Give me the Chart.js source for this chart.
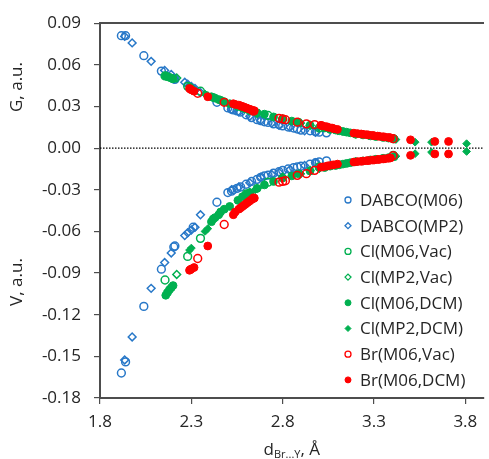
<!DOCTYPE html>
<html>
<head>
<meta charset="utf-8">
<script src="https://cdn.jsdelivr.net/npm/chart.js@4.4.0/dist/chart.umd.min.js"></script>
<style>
  html, body { margin: 0; padding: 0; background: #fff; }
  #chart { display: block; }
</style>
</head>
<body>
<canvas id="chart" width="489" height="459"></canvas>
<script>
// --- axis ticks ---
const X_TICKS = [1.8, 2.3, 2.8, 3.3, 3.8];
const Y_TICKS = [0.09, 0.06, 0.03, 0.0, -0.03, -0.06, -0.09, -0.12, -0.15, -0.18];
const ZERO_LINE_X = [1.8, 3.9];

const LABELS = [
  'DABCO(M06)', 'DABCO(MP2)', 'Cl(M06,Vac)', 'Cl(MP2,Vac)',
  'Cl(M06,DCM)', 'Cl(MP2,DCM)', 'Br(M06,Vac)', 'Br(M06,DCM)',
];

// --- DABCO(M06) ---
const dabcoM06_d = [1.917, 1.94, 2.04, 2.136, 2.204, 2.21, 2.31, 2.44, 2.50, 2.52, 2.53, 2.55, 2.57, 2.60, 2.63, 2.66, 2.68, 2.70, 2.72, 2.75, 2.78, 2.80, 2.83, 2.86, 2.88, 2.90, 2.95, 2.98, 3.00, 3.04];
const dabcoM06_G = [0.081, 0.081, 0.0666, 0.0555, 0.050, 0.0495, 0.042, 0.033, 0.029, 0.028, 0.0275, 0.0268, 0.026, 0.024, 0.022, 0.0205, 0.0198, 0.019, 0.0185, 0.0175, 0.0168, 0.016, 0.0152, 0.0145, 0.0138, 0.013, 0.0125, 0.0118, 0.0115, 0.011];
const dabcoM06_V = [-0.162, -0.154, -0.114, -0.0872, -0.0712, -0.0705, -0.057, -0.039, -0.032, -0.031, -0.030, -0.029, -0.028, -0.026, -0.024, -0.0225, -0.021, -0.020, -0.0195, -0.018, -0.017, -0.016, -0.015, -0.014, -0.0135, -0.013, -0.0115, -0.0105, -0.0100, -0.0092];

// --- DABCO(MP2) ---
const dabcoMP2_d = [1.935, 1.976, 2.08, 2.154, 2.19, 2.264, 2.28, 2.30, 2.32, 2.35, 2.52, 2.56, 2.62, 2.68, 2.74, 2.78, 2.84, 2.92, 2.98];
const dabcoMP2_G = [0.0805, 0.0758, 0.0625, 0.056, 0.053, 0.0474, 0.046, 0.0445, 0.043, 0.040, 0.028, 0.026, 0.023, 0.020, 0.018, 0.0165, 0.015, 0.0125, 0.0115];
const dabcoMP2_V = [-0.1526, -0.136, -0.101, -0.0824, -0.0755, -0.0630, -0.0610, -0.0590, -0.0570, -0.048, -0.030, -0.028, -0.025, -0.021, -0.019, -0.0175, -0.0155, -0.0125, -0.0105];

// --- Cl(M06,Vac) ---
const clM06Vac_d = [2.156, 2.28, 2.35, 2.60, 2.72, 3.00, 3.405];
const clM06Vac_G = [0.052, 0.0445, 0.041, 0.0285, 0.0235, 0.0145, 0.0068];
const clM06Vac_V = [-0.095, -0.078, -0.065, -0.033, -0.0245, -0.0135, -0.0052];

// --- Cl(MP2,Vac) ---
const clMP2Vac_d = [2.22, 2.59, 2.62, 2.66, 2.80, 2.95];
const clMP2Vac_G = [0.0505, 0.0285, 0.027, 0.025, 0.021, 0.0165];
const clMP2Vac_V = [-0.091, -0.034, -0.032, -0.029, -0.021, -0.016];

// --- Cl(M06,DCM) ---
const clM06Dcm_d = [2.16, 2.17, 2.18, 2.19, 2.20, 2.41, 2.42, 2.43, 2.45, 2.46, 2.48, 2.51, 2.555, 2.58, 2.62, 2.66, 2.70, 2.75, 2.80, 2.85, 2.887, 2.95, 3.03, 3.06, 3.09, 3.11, 3.13, 3.15, 3.17, 3.20, 3.24, 3.28, 3.31, 3.35, 3.38, 3.41];
const clM06Dcm_G = [0.052, 0.0515, 0.051, 0.0505, 0.050, 0.037, 0.0365, 0.036, 0.035, 0.0345, 0.0335, 0.032, 0.030, 0.029, 0.027, 0.0255, 0.0245, 0.0225, 0.021, 0.0195, 0.0187, 0.0165, 0.0145, 0.0135, 0.013, 0.0125, 0.012, 0.0115, 0.011, 0.0100, 0.0095, 0.0088, 0.0083, 0.0077, 0.0072, 0.0066];
const clM06Dcm_V = [-0.106, -0.104, -0.102, -0.1005, -0.099, -0.053, -0.051, -0.050, -0.048, -0.046, -0.044, -0.042, -0.0376, -0.035, -0.032, -0.029, -0.0265, -0.024, -0.0215, -0.020, -0.0185, -0.0165, -0.0140, -0.013, -0.0125, -0.0120, -0.0115, -0.0110, -0.0105, -0.0098, -0.0092, -0.0085, -0.0080, -0.0073, -0.0068, -0.0062];

// --- Cl(MP2,DCM) ---
const clMP2Dcm_d = [2.17, 2.19, 2.29, 2.30, 2.375, 2.39, 2.60, 2.65, 2.90, 3.00, 3.10, 3.20, 3.42, 3.525, 3.615, 3.807];
const clMP2Dcm_G = [0.0515, 0.050, 0.0445, 0.044, 0.039, 0.038, 0.028, 0.026, 0.018, 0.0150, 0.0125, 0.0100, 0.0062, 0.0043, 0.0043, 0.0032];
const clMP2Dcm_V = [-0.103, -0.101, -0.0735, -0.072, -0.060, -0.058, -0.033, -0.030, -0.0185, -0.0150, -0.0120, -0.0095, -0.0058, -0.0040, -0.0029, -0.0024];

// --- Br(M06,Vac) ---
const brM06Vac_d = [2.335, 2.48, 2.64, 2.78, 2.80, 2.815, 2.88, 2.93, 2.975, 3.405];
const brM06Vac_G = [0.0395, 0.033, 0.0266, 0.0215, 0.021, 0.0205, 0.0187, 0.0175, 0.017, 0.0068];
const brM06Vac_V = [-0.0795, -0.055, -0.036, -0.0245, -0.024, -0.0235, -0.0196, -0.0184, -0.0160, -0.0055];

// --- Br(M06,DCM) ---
const brM06Dcm_d = [2.29, 2.295, 2.30, 2.315, 2.39, 2.53, 2.54, 2.56, 2.57, 2.58, 2.59, 2.60, 2.61, 2.62, 2.63, 2.645, 3.01, 3.02, 3.04, 3.05, 3.07, 3.08, 3.10, 3.19, 3.21, 3.23, 3.24, 3.26, 3.27, 3.29, 3.30, 3.32, 3.33, 3.35, 3.36, 3.38, 3.39, 3.50, 3.633, 3.708];
const brM06Dcm_G = [0.043, 0.0425, 0.042, 0.041, 0.037, 0.032, 0.0315, 0.031, 0.0305, 0.030, 0.0295, 0.029, 0.0285, 0.028, 0.0275, 0.027, 0.0165, 0.016, 0.0155, 0.015, 0.0145, 0.014, 0.0135, 0.0108, 0.0105, 0.0102, 0.010, 0.0097, 0.0095, 0.0092, 0.009, 0.0087, 0.0085, 0.0082, 0.008, 0.0077, 0.0075, 0.0060, 0.0048, 0.0048];
const brM06Dcm_V = [-0.088, -0.0875, -0.087, -0.086, -0.0705, -0.048, -0.046, -0.044, -0.043, -0.042, -0.041, -0.040, -0.039, -0.038, -0.037, -0.036, -0.0137, -0.0135, -0.0130, -0.0127, -0.0122, -0.012, -0.0115, -0.0100, -0.0097, -0.0095, -0.0093, -0.0090, -0.009, -0.0086, -0.0086, -0.0082, -0.0081, -0.0078, -0.0077, -0.0073, -0.0071, -0.0052, -0.0042, -0.0042];

const BLUE = '#2878C8';
const GREEN = '#00B050';
const RED = '#FF0000';
const AXIS = '#4d4d4d';
const TEXT = '#262626';
const FONT = '"Open Sans", sans-serif';

// style per series: [color, pointStyle, filled]
const STYLES = [
  [BLUE, 'circle', false],
  [BLUE, 'rectRot', false],
  [GREEN, 'circle', false],
  [GREEN, 'rectRot', false],
  [GREEN, 'circle', true],
  [GREEN, 'rectRot', true],
  [RED, 'circle', false],
  [RED, 'circle', true],
];

const SERIES = [
  [dabcoM06_d, dabcoM06_G, dabcoM06_V],
  [dabcoMP2_d, dabcoMP2_G, dabcoMP2_V],
  [clM06Vac_d, clM06Vac_G, clM06Vac_V],
  [clMP2Vac_d, clMP2Vac_G, clMP2Vac_V],
  [clM06Dcm_d, clM06Dcm_G, clM06Dcm_V],
  [clMP2Dcm_d, clMP2Dcm_G, clMP2Dcm_V],
  [brM06Vac_d, brM06Vac_G, brM06Vac_V],
  [brM06Dcm_d, brM06Dcm_G, brM06Dcm_V],
];

function pointsOf(d, g, v) {
  const top = d.map((x, i) => ({ x, y: g[i] }));
  const bottom = d.map((x, i) => ({ x, y: v[i] }));
  return top.concat(bottom);
}

function styleOf(i) {
  const [color, shape, filled] = STYLES[i];
  const r = shape === 'rectRot' ? 3.9 : 3.9;
  return {
    pointStyle: shape,
    pointRadius: r,
    pointHoverRadius: r,
    pointBorderWidth: filled ? 1 : 1.5,
    pointBorderColor: color,
    pointBackgroundColor: filled ? color : 'rgba(0,0,0,0)',
  };
}

const datasets = SERIES.map((s, i) => ({
  label: LABELS[i],
  data: pointsOf(s[0], s[1], s[2]),
  showLine: false,
  order: 10 - i, // later series on top, as in the original
  ...styleOf(i),
}));

datasets.push({
  type: 'line',
  label: 'zero',
  data: ZERO_LINE_X.map((x) => ({ x, y: 0 })),
  borderColor: '#000',
  borderWidth: 1.2,
  borderDash: [1.5, 1.5],
  pointRadius: 0,
  order: 100,
});

/* --- extra text and legend, drawn on the canvas --- */
const decorPlugin = {
  id: 'decor',
  afterDraw(chart) {
    const ctx = chart.ctx;
    const area = chart.chartArea;
    ctx.save();
    ctx.fillStyle = TEXT;

    // y titles (two halves of the same axis)
    ctx.font = '17px ' + FONT;
    ctx.textAlign = 'center';
    ctx.textBaseline = 'middle';
    [['G, a.u.', 87], ['V, a.u.', 282]].forEach(([t, y]) => {
      ctx.save();
      ctx.translate(17, y);
      ctx.rotate(-Math.PI / 2);
      ctx.fillText(t, 0, 0);
      ctx.restore();
    });

    // x title with subscript
    ctx.textAlign = 'left';
    ctx.textBaseline = 'alphabetic';
    const big = '17px ' + FONT;
    const small = '11px ' + FONT;
    ctx.font = big;
    const wD = ctx.measureText('d').width;
    const wTail = ctx.measureText(', Å').width;
    ctx.font = small;
    const wSub = ctx.measureText('Br...Y').width;
    let x = (area.left + area.right) / 2 - (wD + wSub + wTail) / 2;
    const base = 455;
    ctx.font = big;
    ctx.fillText('d', x, base);
    x += wD;
    ctx.font = small;
    ctx.fillText('Br...Y', x, base + 3);
    x += wSub;
    ctx.font = big;
    ctx.fillText(', Å', x, base);

    // legend inside the plot
    ctx.font = '17px ' + FONT;
    ctx.textBaseline = 'middle';
    LABELS.forEach((label, i) => {
      const [color, shape, filled] = STYLES[i];
      const y = 200 + i * 25.7;
      ctx.strokeStyle = color;
      ctx.fillStyle = filled ? color : 'rgba(0,0,0,0)';
      ctx.lineWidth = filled ? 1 : 1.3;
      Chart.helpers.drawPoint(ctx, { pointStyle: shape, radius: 3, borderWidth: ctx.lineWidth, rotation: 0 }, 348, y);
      ctx.fillStyle = TEXT;
      ctx.fillText(label, 360, y + 1);
    });
    ctx.restore();
  },
};

Chart.defaults.font.family = FONT;

new Chart(document.getElementById('chart'), {
  type: 'scatter',
  data: { datasets },
  options: {
    responsive: false,
    animation: false,
    layout: { padding: { top: 23, right: 0, left: 0, bottom: 0 } },
    plugins: { legend: { display: false }, tooltip: { enabled: false } },
    scales: {
      x: {
        type: 'linear',
        position: 'bottom',
        min: 1.8,
        max: 3.9,
        afterBuildTicks: (s) => { s.ticks = X_TICKS.map((value) => ({ value })); },
        afterFit: (s) => { s.height = 61; },
        ticks: {
          callback: (v) => v.toFixed(1),
          font: { size: 17 },
          color: TEXT,
          padding: 8,
          maxRotation: 0,
          autoSkip: false,
        },
        grid: { drawOnChartArea: false, drawTicks: true, tickLength: 6, color: AXIS, lineWidth: 1.2 },
        border: { display: true, color: AXIS, width: 2 },
      },
      xTop: {
        type: 'linear',
        position: 'top',
        min: 1.8,
        max: 3.9,
        afterFit: (s) => { s.height = 0; },
        ticks: { display: false },
        grid: { drawOnChartArea: false, drawTicks: false },
        border: { display: true, color: AXIS, width: 2 },
      },
      y: {
        type: 'linear',
        min: -0.18,
        max: 0.09,
        afterBuildTicks: (s) => { s.ticks = Y_TICKS.map((value) => ({ value })); },
        afterFit: (s) => { s.width = 100; },
        ticks: {
          callback: (v) => (Math.abs(v) < 1e-9 ? '0.00' : v.toFixed(2)),
          font: { size: 17 },
          color: TEXT,
          padding: 13,
        },
        grid: { drawOnChartArea: false, drawTicks: true, tickLength: 6, color: AXIS, lineWidth: 1.2 },
        border: { display: true, color: AXIS, width: 2 },
      },
    },
  },
  plugins: [decorPlugin],
});
</script>
</body>
</html>
